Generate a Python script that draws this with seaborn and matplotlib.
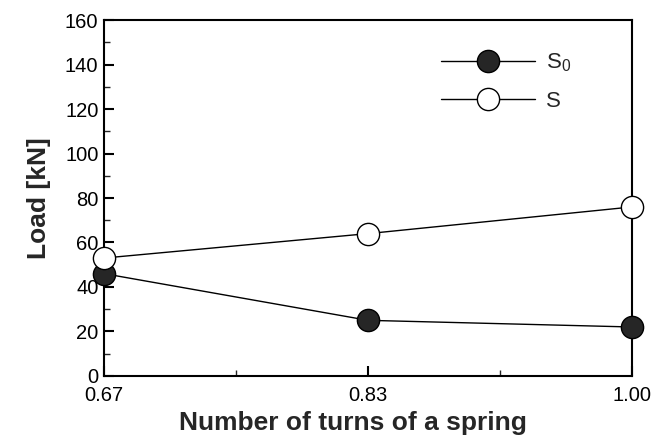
import numpy as np
import pandas as pd
import matplotlib
matplotlib.use("Agg")
import matplotlib.pyplot as plt
import seaborn as sns
from matplotlib.ticker import MultipleLocator

turns = ["0.67", "0.83", "1.00"]
load_s0 = [46, 25, 22]
load_s = [53, 64, 76]
series_labels = [r"S$_\mathrm{0}$", "S"]

sns.set_theme(style="ticks")
plt.rcParams["font.family"] = ["Liberation Sans", "DejaVu Sans"]
plt.rcParams["mathtext.fontset"] = "custom"
plt.rcParams["mathtext.rm"] = "Liberation Sans"
plt.rcParams["mathtext.it"] = "Liberation Sans:italic"

pos = np.arange(len(turns))
df = pd.DataFrame({
    "pos": np.concatenate([pos, pos]),
    "load": load_s0 + load_s,
    "series": [series_labels[0]] * 3 + [series_labels[1]] * 3,
})

fig = plt.figure(figsize=(6.62, 4.47), dpi=100)
ax = fig.add_axes([0.157, 0.159, 0.798, 0.796])

sns.lineplot(data=df[df.series == series_labels[0]], x="pos", y="load",
             color="black", lw=1.0, marker="o", markersize=16,
             markerfacecolor="#262626", markeredgecolor="black",
             markeredgewidth=1.0, ax=ax, label=series_labels[0], clip_on=False, zorder=3)
sns.lineplot(data=df[df.series == series_labels[1]], x="pos", y="load",
             color="black", lw=1.0, marker="o", markersize=16,
             markerfacecolor="white", markeredgecolor="black",
             markeredgewidth=1.0, ax=ax, label=series_labels[1], clip_on=False, zorder=4)

ax.set_xlim(0, len(turns) - 1)
ax.set_ylim(0, 160)
ax.set_xticks(pos)
ax.set_xticklabels(turns)
ax.xaxis.set_minor_locator(MultipleLocator(0.5))
ax.yaxis.set_major_locator(MultipleLocator(20))
ax.yaxis.set_minor_locator(MultipleLocator(10))
ax.tick_params(axis="both", which="major", direction="in", length=7, width=1.5,
               labelsize=14.5, colors="black")
ax.tick_params(axis="x", which="major", pad=7)
ax.tick_params(axis="y", which="major", pad=4)
ax.tick_params(axis="both", which="minor", direction="in", length=4, width=1.0)
for s in ax.spines.values():
    s.set_linewidth(1.5)
    s.set_color("black")

ax.set_xlabel("Number of turns of a spring", fontsize=19, fontweight="bold", labelpad=7)
ax.xaxis.set_label_coords(0.472, -0.098)
ax.set_ylabel("Load [kN]", fontsize=19, fontweight="bold", labelpad=10)

leg = ax.legend(loc="upper right", bbox_to_anchor=(0.922, 0.968), frameon=False,
                fontsize=16, handlelength=4.2, numpoints=1, labelspacing=0.75,
                handletextpad=0.5)

fig.savefig("out.png", dpi=100)
